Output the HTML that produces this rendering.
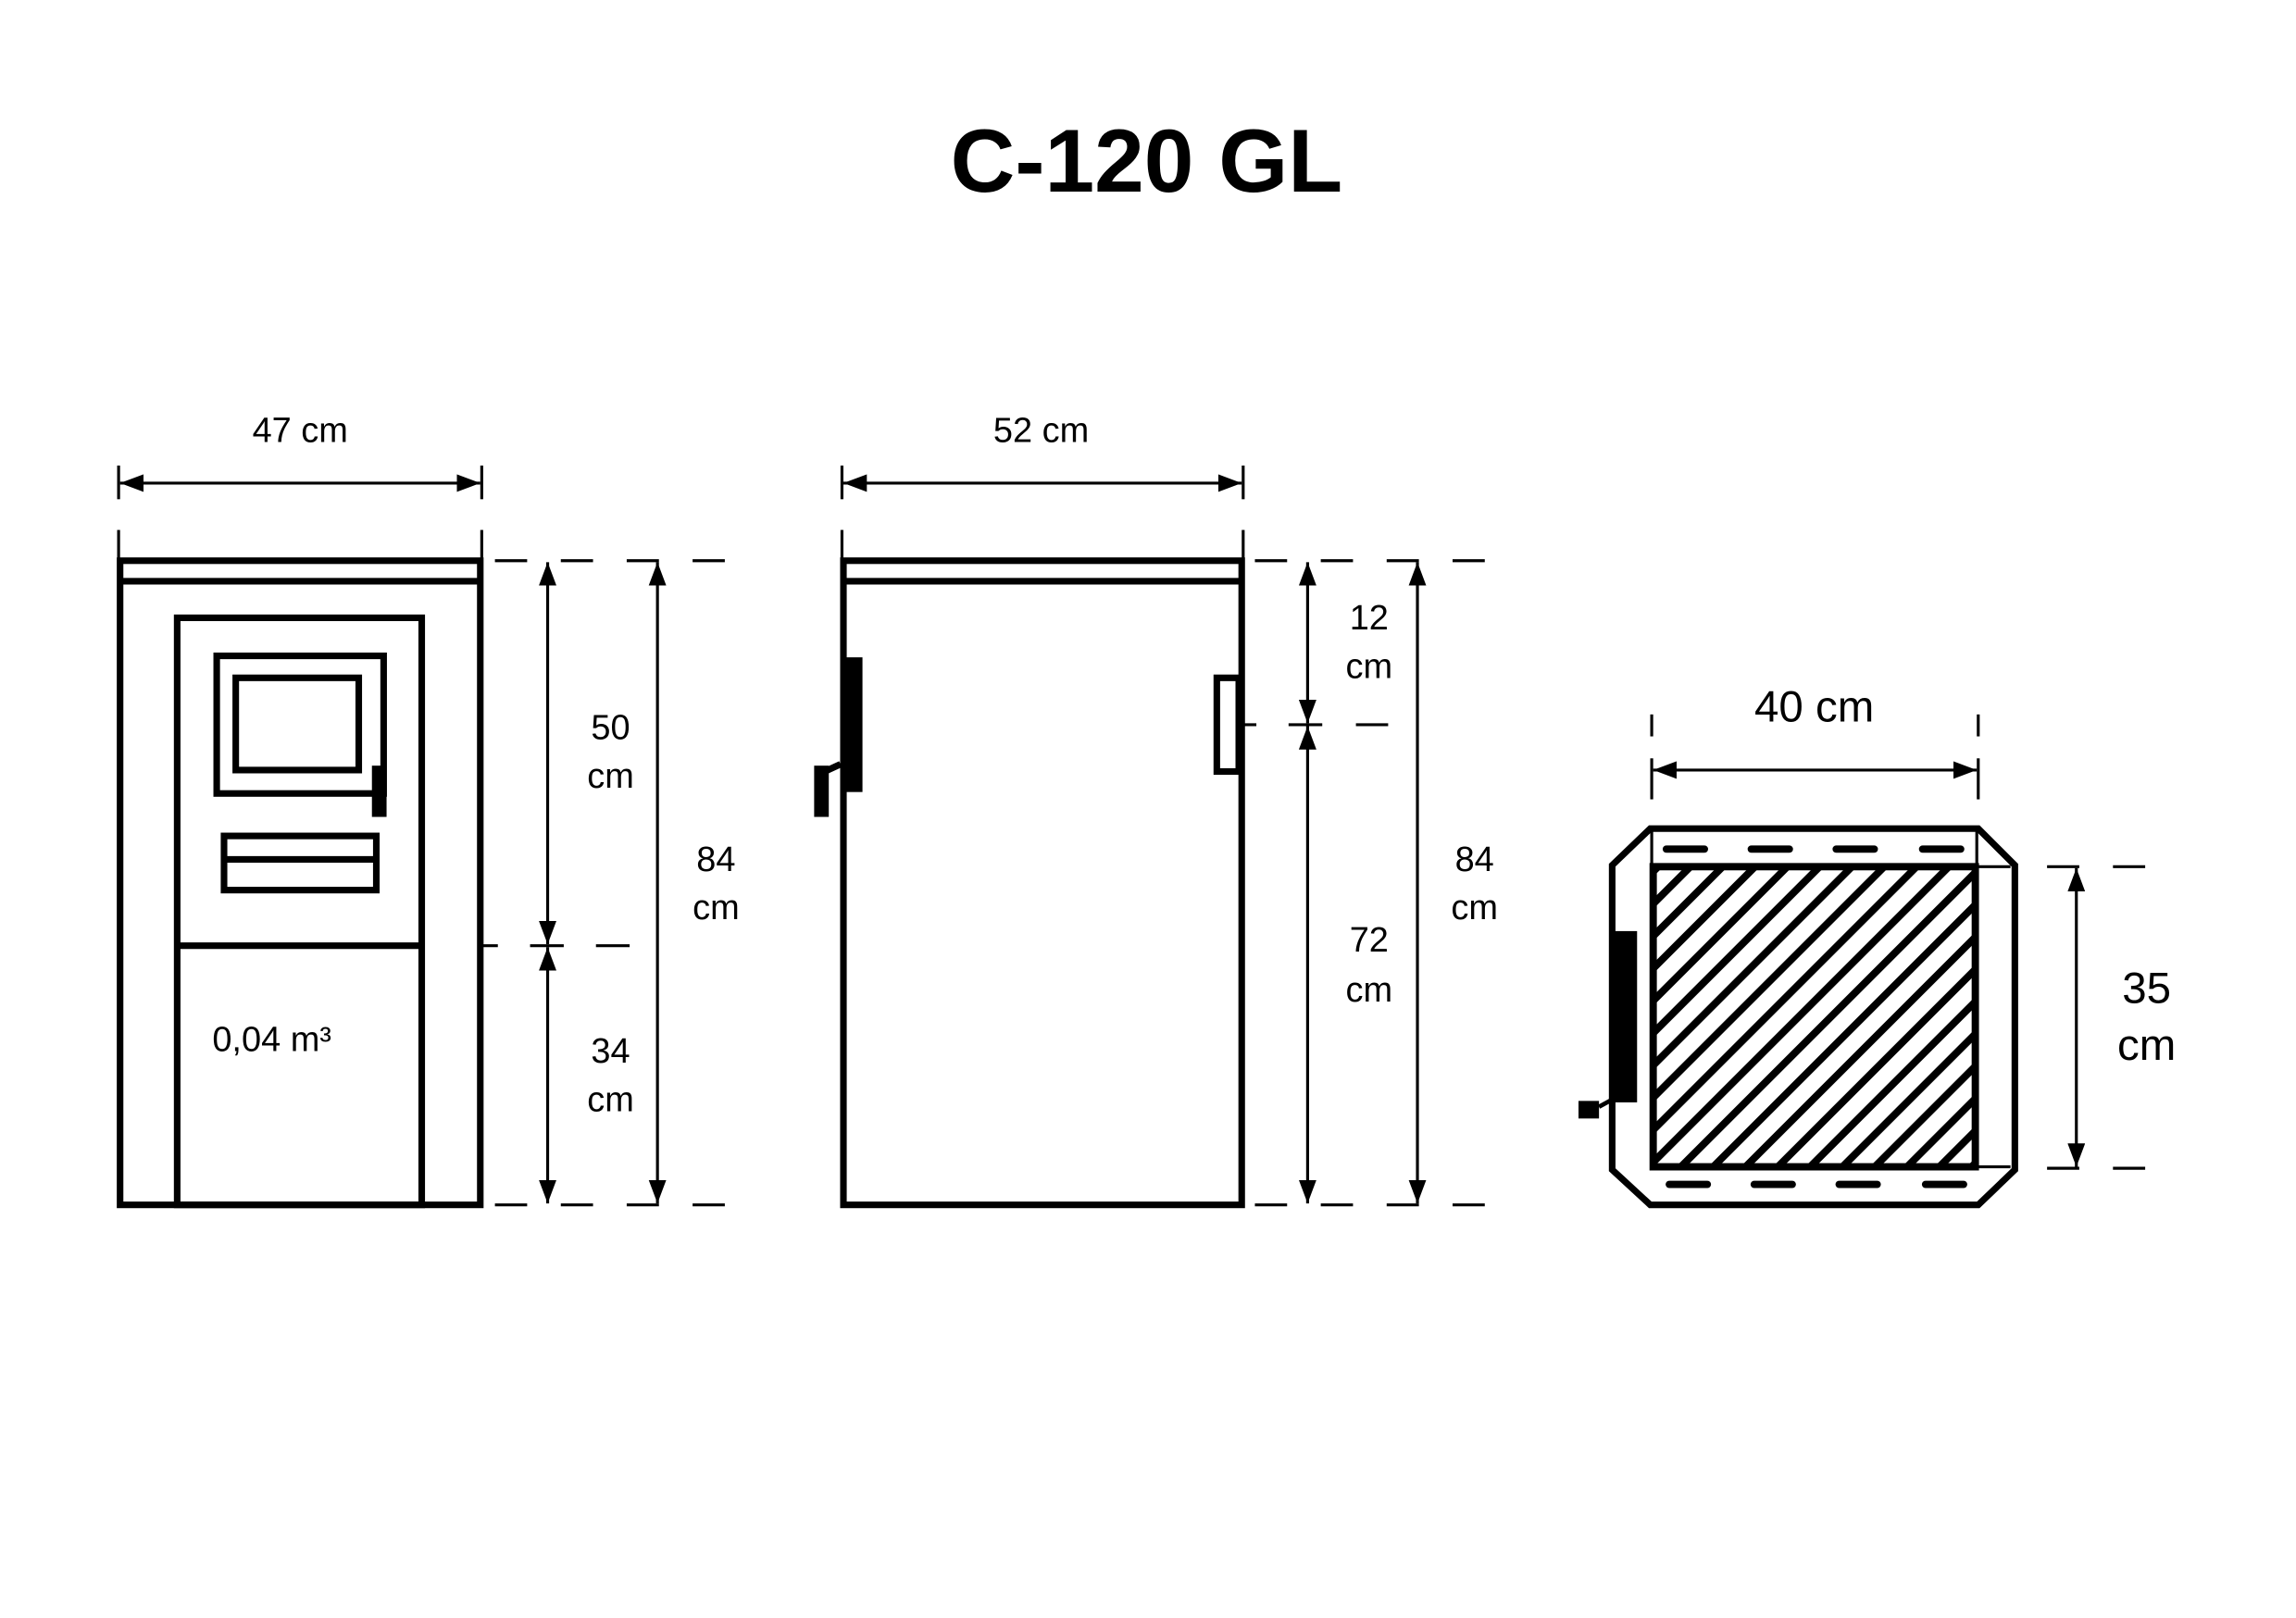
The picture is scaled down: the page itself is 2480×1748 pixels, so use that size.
<!DOCTYPE html>
<html><head><meta charset="utf-8"><style>
html,body{margin:0;padding:0;background:#fff;}
svg{display:block;}
text{font-family:"Liberation Sans","DejaVu Sans",sans-serif;fill:#000;}
</style></head><body>
<svg width="2480" height="1748" viewBox="0 0 1568 1105.2" preserveAspectRatio="none" xmlns="http://www.w3.org/2000/svg">
<defs>
<marker id="a" viewBox="0 0 16 12" refX="16" refY="6" markerWidth="16" markerHeight="12" markerUnits="userSpaceOnUse" orient="auto-start-reverse"><path d="M0,0 L16,6 L0,12 z" fill="#000"/></marker>
<pattern id="h" patternUnits="userSpaceOnUse" width="15.6" height="15.6" patternTransform="rotate(45)"><rect x="0" y="0" width="5" height="15.6" fill="#000"/></pattern>
</defs>
<rect width="1568" height="1105.2" fill="#fff"/>
<text x="783" y="131" font-size="61" font-weight="bold" text-anchor="middle">C-120 GL</text>

<g fill="none" stroke="#000" stroke-width="4.5">
<rect x="82" y="383" width="246" height="440"/>
<line x1="82" y1="397" x2="328" y2="397"/>
<rect x="121" y="422" width="167" height="401"/>
<line x1="121" y1="646" x2="288" y2="646"/>
<rect x="148" y="448" width="114" height="94"/>
<rect x="161" y="463" width="84" height="63"/>
<rect x="153" y="571" width="104" height="37"/>
<line x1="153" y1="587" x2="257" y2="587"/>
<rect x="576" y="383" width="272" height="440"/>
<line x1="576" y1="397" x2="848" y2="397"/>
<rect x="831" y="463" width="15" height="64"/>
<line x1="574" y1="522" x2="561" y2="528"/>
<path d="M1127,566 L1351,566 L1376,591 L1376,799 L1351,823 L1127,823 L1101,799 L1101,591 Z"/>
<line x1="1092" y1="756" x2="1103" y2="750" stroke-width="3"/>
</g>
<rect x="254" y="523" width="10" height="35" fill="#000"/>
<rect x="578" y="449" width="11" height="92" fill="#000"/>
<rect x="556" y="523" width="10" height="35" fill="#000"/>
<rect x="1101" y="636" width="17" height="117" fill="#000"/>
<rect x="1078" y="752" width="14" height="12" fill="#000"/>

<rect x="1129" y="592" width="220" height="205" fill="url(#h)" stroke="#000" stroke-width="5"/>
<g stroke="#000" stroke-width="2"><line x1="1128" y1="568" x2="1128" y2="592"/><line x1="1350" y1="568" x2="1350" y2="592"/>
<line x1="1349" y1="592" x2="1373" y2="592"/><line x1="1349" y1="797" x2="1373" y2="797"/></g>
<g stroke="#000" stroke-width="5" stroke-linecap="round">
<line x1="1138" y1="580" x2="1164" y2="580"/><line x1="1196" y1="580" x2="1222" y2="580"/><line x1="1254" y1="580" x2="1280" y2="580"/><line x1="1313" y1="580" x2="1339" y2="580"/>
<line x1="1140" y1="809" x2="1166" y2="809"/><line x1="1198" y1="809" x2="1224" y2="809"/><line x1="1256" y1="809" x2="1282" y2="809"/><line x1="1315" y1="809" x2="1341" y2="809"/>
</g>

<g stroke="#000" stroke-width="2" fill="none">
<line x1="81" y1="318" x2="81" y2="341"/><line x1="329" y1="318" x2="329" y2="341"/>
<line x1="81" y1="362" x2="81" y2="383"/><line x1="329" y1="362" x2="329" y2="383"/>
<line x1="82" y1="330" x2="328" y2="330" marker-start="url(#a)" marker-end="url(#a)"/>
<line x1="575" y1="318" x2="575" y2="341"/><line x1="849" y1="318" x2="849" y2="341"/>
<line x1="575" y1="362" x2="575" y2="383"/><line x1="849" y1="362" x2="849" y2="383"/>
<line x1="576" y1="330" x2="848" y2="330" marker-start="url(#a)" marker-end="url(#a)"/>
<line x1="1128" y1="488" x2="1128" y2="503"/><line x1="1351" y1="488" x2="1351" y2="503"/>
<line x1="1128" y1="518" x2="1128" y2="546"/><line x1="1351" y1="518" x2="1351" y2="546"/>
<line x1="1129" y1="526" x2="1350" y2="526" marker-start="url(#a)" marker-end="url(#a)"/>

<path d="M338,383h22M383,383h22M428,383h22M473,383h22M338,823h22M383,823h22M428,823h22M473,823h22M330,646h10M362,646h23M407,646h23"/>
<line x1="374" y1="384" x2="374" y2="645" marker-start="url(#a)" marker-end="url(#a)"/>
<line x1="374" y1="647" x2="374" y2="822" marker-start="url(#a)" marker-end="url(#a)"/>
<line x1="449" y1="384" x2="449" y2="822" marker-start="url(#a)" marker-end="url(#a)"/>

<path d="M857,383h22M902,383h22M947,383h22M992,383h22M857,823h22M902,823h22M947,823h22M992,823h22M848,495h10M880,495h23M926,495h22"/>
<line x1="893" y1="384" x2="893" y2="494" marker-start="url(#a)" marker-end="url(#a)"/>
<line x1="893" y1="496" x2="893" y2="822" marker-start="url(#a)" marker-end="url(#a)"/>
<line x1="968" y1="384" x2="968" y2="822" marker-start="url(#a)" marker-end="url(#a)"/>

<path d="M1398,592h22M1443,592h22M1398,798h22M1443,798h22"/>
<line x1="1418" y1="593" x2="1418" y2="797" marker-start="url(#a)" marker-end="url(#a)"/>
</g>

<g font-size="24" text-anchor="middle">
<text x="205" y="302">47 cm</text>
<text x="711" y="302">52 cm</text>
<text x="417" y="505">50</text><text x="417" y="538">cm</text>
<text x="417" y="726">34</text><text x="417" y="759">cm</text>
<text x="489" y="595">84</text><text x="489" y="628">cm</text>
<text x="935" y="430">12</text><text x="935" y="463">cm</text>
<text x="935" y="650">72</text><text x="935" y="684">cm</text>
<text x="1007" y="595">84</text><text x="1007" y="628">cm</text>
</g>
<text x="145" y="718" font-size="24">0,04 m³</text>
<g font-size="30" text-anchor="middle">
<text x="1239" y="493">40 cm</text>
<text x="1466" y="685">35</text><text x="1466" y="724">cm</text>
</g>
</svg>
</body></html>
